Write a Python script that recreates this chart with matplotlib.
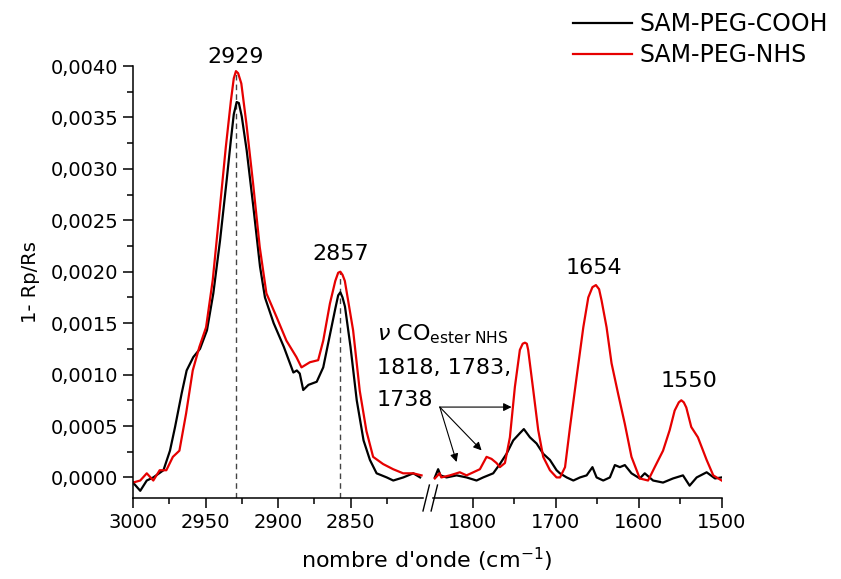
import numpy as np
import matplotlib
matplotlib.use('Agg')
import matplotlib.pyplot as plt
from matplotlib.ticker import FuncFormatter

# high wavenumber region (C-H stretch)
wn_hi_cooh = [3000, 2995, 2990.5, 2986, 2979, 2974.5, 2971, 2966.4, 2963, 2958.4, 2953.8, 2949,
              2944.6, 2940, 2935.4, 2932.5, 2930.5, 2928.5, 2927, 2925, 2921.6, 2917, 2912.4,
              2909, 2903, 2896, 2889.4, 2887, 2885, 2882.6, 2879, 2873.3, 2868.8, 2864, 2860.5,
              2858.5, 2857, 2855.5, 2853.8, 2850, 2845.7, 2841, 2836.6, 2832, 2825, 2820.5,
              2813.6, 2806.7, 2802]
y_hi_cooh = [-0.00005, -0.00013, -0.00003, 0.0, 0.00007, 0.00026, 0.00049, 0.00082, 0.00104,
             0.00117, 0.00125, 0.00143, 0.00179, 0.0023, 0.00289, 0.00328, 0.00353, 0.00365,
             0.00364, 0.00351, 0.00318, 0.00263, 0.00205, 0.00175, 0.0015, 0.00127, 0.00102,
             0.00104, 0.00101, 0.00085, 0.0009, 0.00093, 0.00107, 0.0014, 0.00164, 0.00177,
             0.0018, 0.00175, 0.00166, 0.00127, 0.00075, 0.00036, 0.00017, 0.00004, 0.0,
             -0.00003, 0.0, 0.00004, 0.0]

wn_hi_nhs = [3000, 2995, 2990.5, 2986, 2981.6, 2977, 2972.5, 2968, 2963.4, 2958.8, 2954.2,
             2949.6, 2945, 2940.5, 2936, 2932.5, 2930.5, 2929, 2927.5, 2925.3, 2921.8, 2917.2,
             2912.6, 2908, 2901, 2894.2, 2887.3, 2883.8, 2878, 2872.3, 2868.8, 2864.2, 2860.5,
             2858.5, 2857, 2855.5, 2853.9, 2848.2, 2843.6, 2839, 2834.4, 2827.5, 2820.6,
             2813.7, 2806.8, 2801]
y_hi_nhs = [-0.00005, -0.00003, 0.00004, -0.00003, 0.00007, 0.00007, 0.0002, 0.00026, 0.00062,
            0.00104, 0.00127, 0.00146, 0.00192, 0.00256, 0.00321, 0.00366, 0.00388, 0.00395,
            0.00393, 0.00383, 0.00344, 0.00286, 0.00224, 0.00179, 0.00156, 0.00133, 0.00117,
            0.00107, 0.00112, 0.00114, 0.00133, 0.00169, 0.00191, 0.00199, 0.002, 0.00197,
            0.00191, 0.00143, 0.00084, 0.00045, 0.0002, 0.00013, 0.00008, 0.00004, 0.00004,
            0.00002]

# low wavenumber region (C=O, amide)
wn_lo_cooh = [1845.8, 1841.8, 1839, 1831.7, 1819.6, 1807.6, 1795.6, 1787.6, 1775.5, 1767.5,
              1759.4, 1751.4, 1743.4, 1738.6, 1731.3, 1723.3, 1715.3, 1707.2, 1699.2, 1695.2,
              1687, 1679, 1671, 1663, 1656, 1651, 1643, 1635, 1629, 1623, 1617, 1609, 1599,
              1593, 1583, 1571, 1559, 1547, 1539, 1530.5, 1518.5, 1508.4, 1500.4]
y_lo_cooh = [0.0, 0.00008, 0.00002, 0.0, 0.00002, 0.0, -0.00003, 0.0, 0.00004, 0.00013,
             0.00023, 0.00036, 0.00043, 0.00047, 0.00039, 0.00033, 0.00023, 0.00017, 0.00007,
             0.00004, 0.0, -0.00003, 0.0, 0.00002, 0.0001, 0.0, -0.00003, 0.0, 0.00012, 0.0001,
             0.00012, 0.00004, -0.00001, 0.00004, -0.00003, -0.00005, -0.00001, 0.00002,
             -0.00008, 0.0, 0.00005, -0.00001, 0.0]

wn_lo_nhs = [1845.8, 1840, 1838, 1827.7, 1815.7, 1807.6, 1799.5, 1791.5, 1783.5, 1777.5, 1771.5,
             1767.5, 1761.4, 1755.4, 1749.4, 1743.4, 1740, 1737.3, 1735, 1733.4, 1727.3, 1721.3,
             1715.3, 1707.2, 1699.2, 1695, 1689, 1683, 1675, 1667, 1661, 1656, 1651.8, 1648,
             1645, 1639, 1633, 1625, 1617, 1609, 1599, 1589, 1581, 1571, 1563, 1557, 1552, 1549,
             1546, 1543, 1537, 1529, 1518.5, 1510.5, 1500.4]
y_lo_nhs = [-0.00001, 0.00004, 0.0, 0.00002, 0.00005, 0.00002, 0.00005, 0.00008, 0.0002, 0.00018,
            0.00014, 0.0001, 0.00014, 0.00039, 0.00088, 0.00124, 0.0013, 0.00131, 0.0013,
            0.00124, 0.00085, 0.00046, 0.0002, 0.00007, 0.0, 0.0, 0.0001, 0.00049, 0.00098,
            0.00146, 0.00175, 0.00185, 0.00187, 0.00183, 0.00172, 0.00146, 0.00111, 0.00081,
            0.00052, 0.0002, -0.00001, -0.00003, 0.0001, 0.00026, 0.00046, 0.00065, 0.00073,
            0.00075, 0.00073, 0.00068, 0.00049, 0.00039, 0.00017, 0.00002, -0.00003]

peaks_hi = [2929, 2857]
peaks_hi_top = [0.00395, 0.0020]
labels_hi = ['2929', '2857']
labels_lo = ['1654', '1550']
labels_lo_x = [1654, 1540]
labels_lo_y = [0.00198, 0.00088]

fig = plt.figure(figsize=(8.41, 5.79), dpi=100)
ax1 = fig.add_axes([133/841, 1-498/579, 290/841, 432/579])
ax2 = fig.add_axes([433/841, 1-498/579, 289/841, 432/579], sharey=ax1)
ax1.patch.set_visible(False)
ax2.patch.set_visible(False)

ax1.plot(wn_hi_cooh, y_hi_cooh, 'k', lw=1.6, label='SAM-PEG-COOH')
ax1.plot(wn_hi_nhs, y_hi_nhs, color='#e60000', lw=1.6, label='SAM-PEG-NHS')
ax2.plot(wn_lo_cooh, y_lo_cooh, 'k', lw=1.6)
ax2.plot(wn_lo_nhs, y_lo_nhs, color='#e60000', lw=1.6)

ax1.set_xlim(3000, 2800)
ax2.set_xlim(1848, 1500)
ax1.set_ylim(-0.0002, 0.0040)

# dashed guides under the CH2 peaks
ax1.vlines(peaks_hi, -0.0002, peaks_hi_top, colors='#444444', linestyles=(0, (4, 3)), lw=1, zorder=0)

for a in (ax1, ax2):
    for s in ('top', 'right'):
        a.spines[s].set_visible(False)
    a.spines['bottom'].set_linewidth(1.1)
    a.tick_params(which='major', direction='out', length=7, width=1.1, labelsize=14)
    a.tick_params(which='minor', direction='out', length=4, width=1.1)
ax1.spines['left'].set_linewidth(1.1)
ax2.spines['left'].set_visible(False)
ax2.tick_params(axis='y', which='both', left=False, labelleft=False)

ax1.set_xticks([3000, 2950, 2900, 2850])
ax1.set_xticks([2975, 2925, 2875, 2825], minor=True)
ax2.set_xticks([1800, 1700, 1600, 1500])
ax2.set_xticks([1750, 1650, 1550], minor=True)
ax1.set_yticks(np.arange(0, 0.00401, 0.0005))
ax1.set_yticks(np.arange(0.00025, 0.004, 0.0005), minor=True)
ax1.yaxis.set_major_formatter(FuncFormatter(lambda v, p: ('%.4f' % v).replace('.', ',')))

ax1.set_ylabel('1- Rp/Rs', fontsize=14, labelpad=8)
fig.text(427/841, 1-560/579, "nombre d'onde (cm$^{-1}$)", fontsize=16, ha='center', va='center')

# axis break marks
for dx in (0.0, 0.028):
    ax1.plot([1.0 + dx, 1.022 + dx], [-0.03, 0.03], transform=ax1.transAxes,
             color='k', lw=1, clip_on=False)

# peak labels
for xp, yp, t in zip(peaks_hi, [0.00403, 0.00211], labels_hi):
    ax1.text(xp, yp, t, fontsize=16, ha='center', va='baseline')
for xp, yp, t in zip(labels_lo_x, labels_lo_y, labels_lo):
    ax2.text(xp, yp, t, fontsize=16, ha='center', va='baseline')

ax1.text(2831.7, 0.00133, r'$\nu$ CO$_{\mathrm{ester\ NHS}}$', fontsize=16, va='baseline', zorder=5)
ax1.text(2831.7, 0.00101, '1818, 1783,', fontsize=16, va='baseline', zorder=5)
ax1.text(2831.7, 0.00069, '1738', fontsize=16, va='baseline', zorder=5)

arr = dict(arrowstyle='-|>', color='k', lw=0.8, mutation_scale=12, shrinkA=0, shrinkB=0)
for xe, ye in [(1753.4, 0.000684), (1789.5, 0.000263), (1819.6, 0.00015)]:
    ax2.annotate('', xy=(xe, ye), xytext=(1839.8, 0.000684), arrowprops=arr, annotation_clip=False)

fig.legend(loc='upper left', bbox_to_anchor=(573/841, 1-12/579), frameon=False, fontsize=17,
           handlelength=2.5, handletextpad=0.3, borderpad=0, borderaxespad=0, labelspacing=0.3)

fig.savefig('out.png', dpi=100)
